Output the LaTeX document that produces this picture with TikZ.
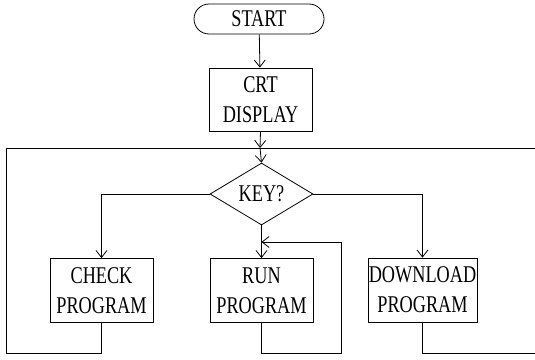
\documentclass[tikz,border=0pt]{standalone}
\usepackage{fontspec}
\setmainfont[FakeStretch=0.76]{Liberation Serif}
\usetikzlibrary{shapes.geometric,arrows.meta}

\begin{document}
\begin{tikzpicture}[x=1pt, y=-1pt, line width=0.8pt,
        every node/.style={font=\fontsize{24}{30}\selectfont, align=center, inner sep=0pt},
        box/.style={draw, rectangle, minimum width=103pt, minimum height=64pt},
        flow/.style={-{Straight Barb[length=7pt,width=11pt,line width=0.8pt]}}]
            \useasboundingbox (0,0) rectangle (535,359);
            \clip (0,0) rectangle (535,359);
            \node(start)[draw, rounded corners=15pt, minimum width=130pt, minimum height=30pt] at (259,19) {START};
            \node(crt)[box, minimum height=63pt] at (260.5,99.5) {CRT\\DISPLAY};
            \node(key)[draw, diamond, minimum width=103pt, minimum height=62pt] at (261.5,194) {KEY?};
            \node(check)[box] at (101.5,290.5) {CHECK\\PROGRAM};
            \node(run)[box] at (261.5,290.5) {RUN\\PROGRAM};
            \node(dload)[box, minimum width=109pt] at (422.5,290) {DOWNLOAD\\PROGRAM};
            \coordinate(join) at (260,148);
            \draw[flow](start)--(crt);
            \draw[flow](crt.south)--(join);
            \draw[flow](join)--(key.north);
            \draw[flow](key.west)-|(check.north);
            \draw[flow](key.south)--(run.north);
            \draw[flow](key.east)-|(dload.north);
            % return paths
            \draw(check.south)--++(0,30)-|(6,148)--(join);
            \draw[flow](run.south)--++(0,30)-|(341,242)--(run.north |- 0,242);
            \draw(dload.south)--++(0,31)-|(540,148)--(join);
        \end{tikzpicture}
\end{document}
